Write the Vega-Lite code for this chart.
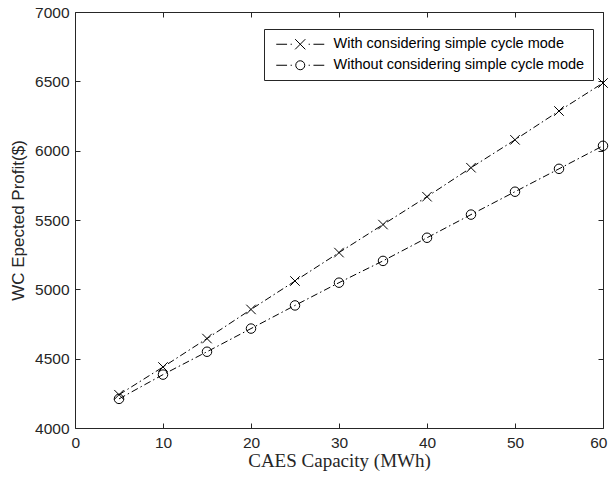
{
  "$schema": "https://vega.github.io/schema/vega-lite/v6.json",
  "width": 528,
  "height": 416,
  "autosize": {"type": "none"},
  "padding": {"left": 75, "top": 12, "right": 7, "bottom": 51},
  "background": "white",
  "config": {
    "view": {"stroke": null},
    "axis": {
      "grid": false,
      "domainColor": "#262626",
      "tickColor": "#262626",
      "labelColor": "#262626",
      "titleColor": "#262626",
      "labelFont": "Liberation Sans",
      "labelFontSize": 15.5,
      "tickSize": -5,
      "domainWidth": 1,
      "tickWidth": 1,
      "format": "d",
      "labelFlush": false,
      "labelOverlap": false
    }
  },
  "data": {
    "values": [
      {"cap": 5, "profit": 4240, "series": "With considering simple cycle mode"},
      {"cap": 10, "profit": 4440, "series": "With considering simple cycle mode"},
      {"cap": 15, "profit": 4645, "series": "With considering simple cycle mode"},
      {"cap": 20, "profit": 4855, "series": "With considering simple cycle mode"},
      {"cap": 25, "profit": 5060, "series": "With considering simple cycle mode"},
      {"cap": 30, "profit": 5265, "series": "With considering simple cycle mode"},
      {"cap": 35, "profit": 5467, "series": "With considering simple cycle mode"},
      {"cap": 40, "profit": 5668, "series": "With considering simple cycle mode"},
      {"cap": 45, "profit": 5877, "series": "With considering simple cycle mode"},
      {"cap": 50, "profit": 6078, "series": "With considering simple cycle mode"},
      {"cap": 55, "profit": 6286, "series": "With considering simple cycle mode"},
      {"cap": 60, "profit": 6488, "series": "With considering simple cycle mode"},
      {"cap": 5, "profit": 4210, "series": "Without considering simple cycle mode"},
      {"cap": 10, "profit": 4385, "series": "Without considering simple cycle mode"},
      {"cap": 15, "profit": 4550, "series": "Without considering simple cycle mode"},
      {"cap": 20, "profit": 4717, "series": "Without considering simple cycle mode"},
      {"cap": 25, "profit": 4884, "series": "Without considering simple cycle mode"},
      {"cap": 30, "profit": 5048, "series": "Without considering simple cycle mode"},
      {"cap": 35, "profit": 5205, "series": "Without considering simple cycle mode"},
      {"cap": 40, "profit": 5372, "series": "Without considering simple cycle mode"},
      {"cap": 45, "profit": 5539, "series": "Without considering simple cycle mode"},
      {"cap": 50, "profit": 5704, "series": "Without considering simple cycle mode"},
      {"cap": 55, "profit": 5869, "series": "Without considering simple cycle mode"},
      {"cap": 60, "profit": 6035, "series": "Without considering simple cycle mode"}
    ]
  },
  "layer": [
    {
      "mark": {"type": "line", "strokeWidth": 1, "strokeDash": [7, 3, 1.5, 3]},
      "encoding": {
        "x": {
          "field": "cap", "type": "quantitative",
          "scale": {"domain": [0, 60], "nice": false},
          "axis": {
            "orient": "bottom", "values": [0, 10, 20, 30, 40, 50, 60],
            "title": "CAES Capacity (MWh)", "titleFont": "Liberation Serif",
            "titleFontSize": 19, "titleFontWeight": "normal", "labelPadding": 12, "titlePadding": 1,
            "labelFlush": true, "labelFlushOffset": 4
          }
        },
        "y": {
          "field": "profit", "type": "quantitative",
          "scale": {"domain": [4000, 7000], "nice": false, "zero": false},
          "axis": {
            "orient": "left", "values": [4000, 4500, 5000, 5500, 6000, 6500, 7000],
            "title": "WC Epected Profit($)", "titleFont": "Liberation Sans",
            "titleFontSize": 17, "titleFontWeight": "normal", "labelPadding": 11, "titlePadding": 7
          }
        },
        "color": {
          "field": "series", "type": "nominal",
          "scale": {"range": ["black", "black"]},
          "sort": ["With considering simple cycle mode", "Without considering simple cycle mode"],
          "legend": {
            "title": null,
            "orient": "none",
            "legendX": 189,
            "legendY": 17,
            "padding": 8,
            "strokeColor": "#262626",
            "fillColor": "white",
            "labelFont": "Liberation Sans",
            "labelFontSize": 14.5,
            "labelColor": "black",
            "labelLimit": 0,
            "symbolSize": 144,
            "labelOffset": 47,
            "rowPadding": 5,
            "encode": {
              "symbols": {
                "update": {
                  "shape": {"signal": "datum.value === 'With considering simple cycle mode' ? 'M-0.5,0L1.3,0M1.9,0L2.1,0M2.65,-0.85L4.35,0.85M2.65,0.85L4.35,-0.85M4.9,0L5.1,0M5.7,0L7.5,0' : 'M-0.5,0L1.3,0M1.9,0L2.1,0M4.25,0A0.75,0.75 0 1 1 2.75,0A0.75,0.75 0 1 1 4.25,0M4.9,0L5.1,0M5.7,0L7.5,0'"},
                  "stroke": {"value": "black"},
                  "fill": {"value": "transparent"},
                  "strokeWidth": {"value": 1},
                  "strokeDash": {"value": []},
                  "opacity": {"value": 1}
                }
              }
            }
          }
        }
      }
    },
    {
      "mark": {"type": "point", "filled": false, "strokeWidth": 1, "opacity": 1},
      "encoding": {
        "x": {
          "field": "cap", "type": "quantitative",
          "axis": {"orient": "top", "values": [0, 10, 20, 30, 40, 50, 60], "labels": false, "title": null}
        },
        "y": {
          "field": "profit", "type": "quantitative",
          "axis": {"orient": "right", "values": [4000, 4500, 5000, 5500, 6000, 6500, 7000], "labels": false, "title": null}
        },
        "shape": {
          "field": "series", "type": "nominal",
          "scale": {"domain": ["With considering simple cycle mode", "Without considering simple cycle mode"], "range": ["M-1,-1L1,1M-1,1L1,-1", "circle"]},
          "legend": null
        },
        "size": {"value": 90},
        "color": {"value": "black"}
      }
    }
  ],
  "resolve": {"axis": {"x": "independent", "y": "independent"}, "scale": {"color": "independent", "shape": "independent"}}
}
